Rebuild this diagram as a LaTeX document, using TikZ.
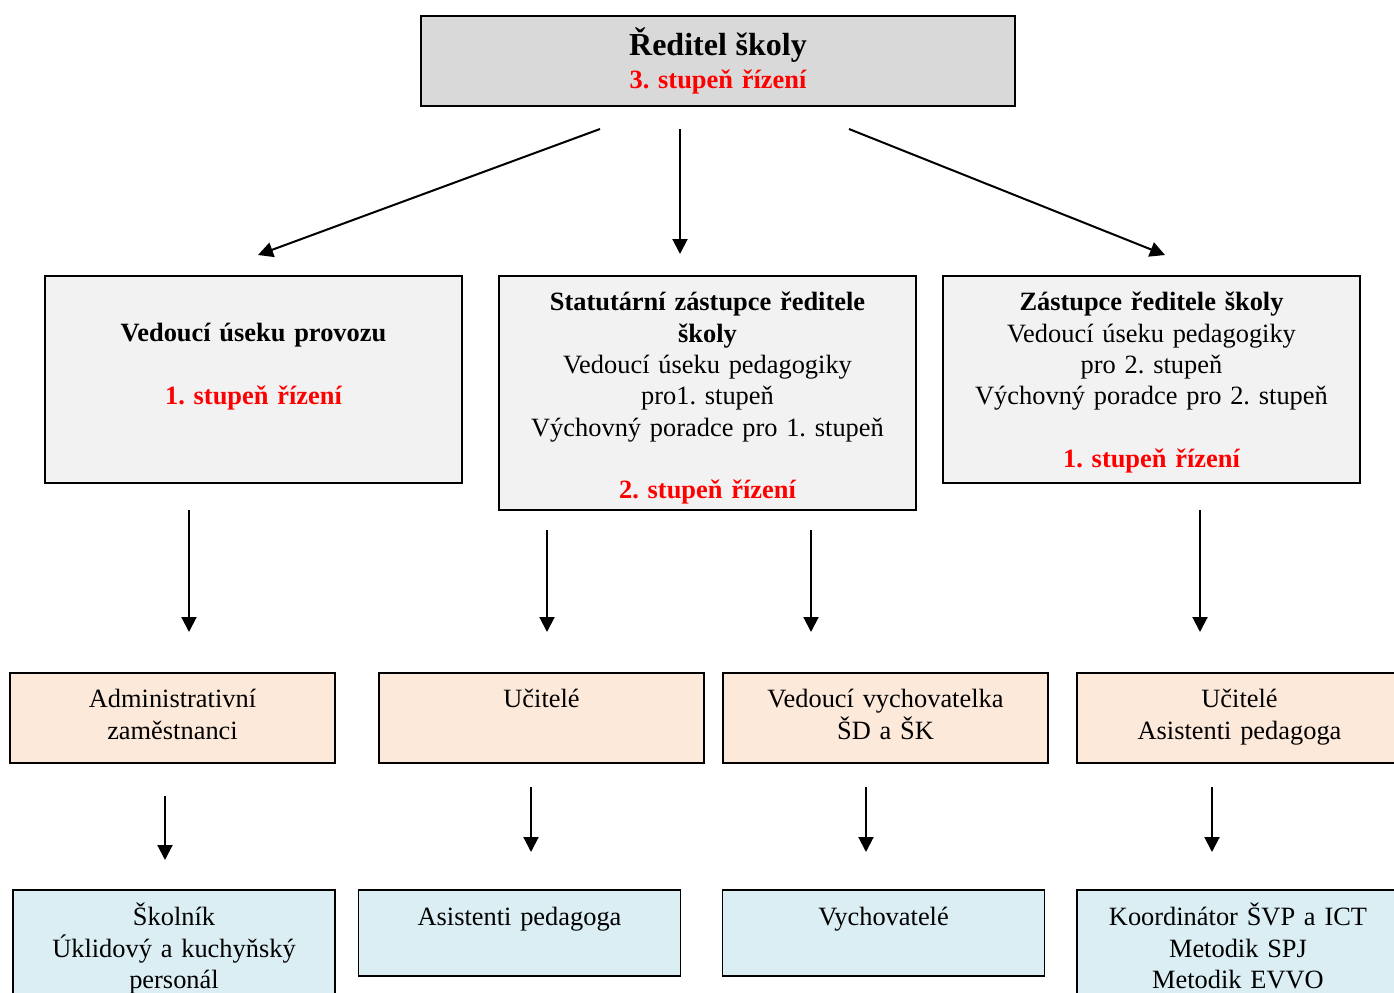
\documentclass[tikz,border=0pt]{standalone}
\usepackage{fontspec}
\setmainfont{Liberation Serif}
\usepackage{xcolor}
\usetikzlibrary{arrows.meta}
\frenchspacing

\definecolor{headgray}{HTML}{D9D9D9}
\definecolor{leadgray}{HTML}{F2F2F2}
\definecolor{staffpeach}{HTML}{FDE9D9}
\definecolor{subblue}{HTML}{DAEEF3}
\newcommand{\rizeni}[1]{\textcolor{red}{\bfseries #1}}

\tikzset{
  box/.style={draw, line width=0.85pt, inner sep=0pt, align=center, anchor=north,
    font=\fontsize{13.2}{15.65}\selectfont},
  headbox/.style={box, fill=headgray, text width=297pt, text height=20pt, text depth=25pt,
    font=\fontsize{13.2}{16.5}\selectfont},
  leadbox/.style={box, fill=leadgray, text width=208.5pt},
  staffbox/.style={box, fill=staffpeach, text width=162.5pt, text height=17.5pt, text depth=27.5pt},
  subbox/.style={box, fill=subblue, text width=161pt, text height=18pt},
  arr/.style={-{Triangle[length=7.5pt,width=7.5pt]}, line width=1pt}
}

\begin{document}
\begin{tikzpicture}[x=0.5pt, y=-0.5pt]
\useasboundingbox (0,0) rectangle (1394,992);

% Head of school
\node[headbox] (reditel) at (718,15)
    {{\fontsize{16}{16.5}\selectfont\bfseries Ředitel školy}\\ \rizeni{3. stupeň řízení}};

% Deputies and heads of sections
\node[leadbox, text height=33pt, text depth=70.5pt] (provoz) at (253.5,275)
    {\textbf{Vedoucí úseku provozu}\\ ~\\ \rizeni{1. stupeň řízení}};
\node[leadbox, text height=17.5pt, text depth=99.5pt] (statutar) at (707.5,275)
    {\textbf{Statutární zástupce ředitele}\\ \textbf{školy}\\ Vedoucí úseku pedagogiky\\
     pro1. stupeň\\ Výchovný poradce pro 1. stupeň\\ ~\\ \rizeni{2. stupeň řízení}};
\node[leadbox, text height=17.5pt, text depth=86pt] (zastupce) at (1151.5,275)
    {\textbf{Zástupce ředitele školy}\\ Vedoucí úseku pedagogiky\\ pro 2. stupeň\\
     Výchovný poradce pro 2. stupeň\\ ~\\ \rizeni{1. stupeň řízení}};

% Staff
\node[staffbox] (admin) at (172.5,672) {Administrativní\\ zaměstnanci};
\node[staffbox] (ucitele) at (541.5,672) {Učitelé};
\node[staffbox] (vedvych) at (885.5,672) {Vedoucí vychovatelka\\ ŠD a ŠK};
\node[staffbox] (ucitasist) at (1239.5,672) {Učitelé\\ Asistenti pedagoga};

% Lower staff
\node[subbox, text depth=42.5pt] (skolnik) at (174,889)
    {Školník\\ Úklidový a kuchyňský\\ personál};
\node[subbox, text depth=25pt] (asistenti) at (519.5,889) {Asistenti pedagoga};
\node[subbox, text depth=25pt] (vychovatele) at (883.5,889) {Vychovatelé};
\node[subbox, text depth=42.5pt] (koordinator) at (1238,889)
    {Koordinátor ŠVP a ICT\\ Metodik SPJ\\ Metodik EVVO};

% Arrows from the head
\coordinate (h1s) at (600,129);  \coordinate (h1e) at (258,255);
\coordinate (h2s) at (680,129);  \coordinate (h2e) at (680,254);
\coordinate (h3s) at (849,129);  \coordinate (h3e) at (1165,255);
\foreach \n in {1,2,3} {
    \draw[arr] (h\n s) -- (h\n e);
}

% Arrows down to the staff
\foreach \n/\x/\ya/\yb in {1/189/510/632, 2/547/530/632, 3/811/530/632, 4/1200/510/632,
                           5/165/796/860, 6/531/787/852, 7/866/787/852, 8/1212/787/852} {
    \coordinate (d\n s) at (\x,\ya);
    \coordinate (d\n e) at (\x,\yb);
    \draw[arr] (d\n s) -- (d\n e);
}

\end{tikzpicture}
\end{document}
